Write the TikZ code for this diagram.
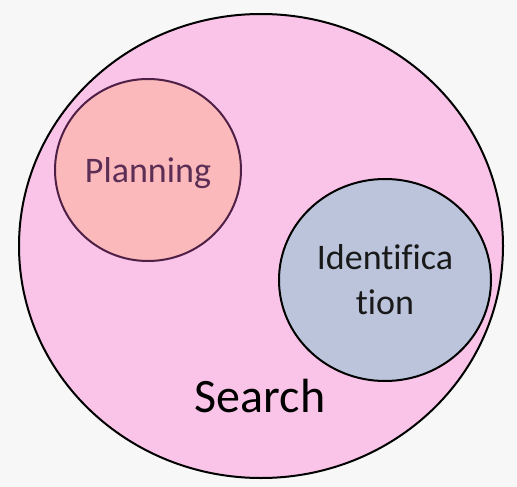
\documentclass[tikz,border=0pt]{standalone}
\usepackage{fontspec}
\setmainfont[Ligatures=NoCommon]{Carlito}
\usetikzlibrary{shapes.geometric}
\definecolor{bggray}{HTML}{F7F7F7}
\definecolor{searchpink}{HTML}{F9C4E7}
\definecolor{planpink}{HTML}{FBB9BB}
\definecolor{planline}{HTML}{4F2045}
\definecolor{plantext}{HTML}{5C2E55}
\definecolor{identblue}{HTML}{BBC4DA}
\begin{document}
\begin{tikzpicture}[x=1pt,y=-1pt]
    \tikzset{
        setshape/.style={ellipse,draw,line width=2pt,inner sep=0pt},
        setlabel/.style={font=\fontsize{36}{45}\selectfont,align=center},}
    \fill[bggray] (0,0) rectangle (517,487);
    \useasboundingbox (0,0) rectangle (517,487);
    \node[setshape,fill=searchpink,minimum width=484pt,minimum height=464pt] (search) at (261,246) {};
    \node[setshape,setlabel,draw=planline,text=plantext,fill=planpink,text depth=0pt,minimum width=186pt,minimum height=182pt] (plan) at (148,170) {Planning};
    \node[setshape,setlabel,fill=identblue,text=black!90,minimum width=212pt,minimum height=202pt] (ident) at (385,280) {Identifica\\tion};
    \node[font=\fontsize{48}{58}\selectfont,anchor=base] (searchlabel) at (260,412) {Search};
\end{tikzpicture}
\end{document}
